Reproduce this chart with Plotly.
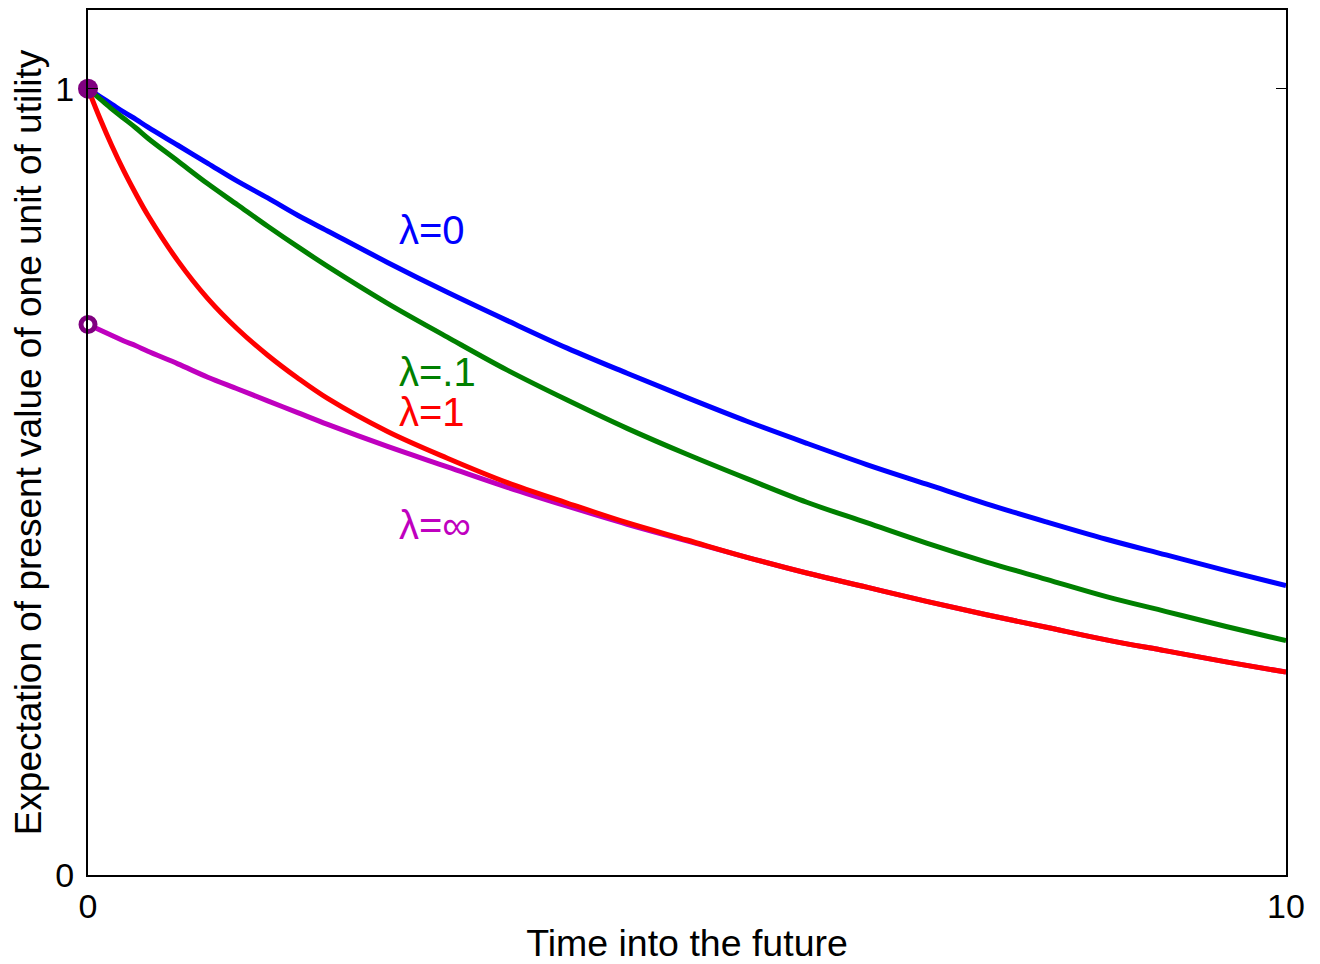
import plotly.graph_objects as go

# Time into the future
t = [0, 0.1, 0.2, 0.3, 0.4, 0.5, 0.75, 1, 1.25, 1.5, 1.75, 2, 2.5, 3, 3.5, 4,
     4.5, 5, 5.5, 6, 6.5, 7, 7.5, 8, 8.5, 9, 9.5, 10]

# Expectation of present value, one series per lambda
lam0 = [1.000, 0.990, 0.980, 0.970, 0.961, 0.951, 0.928, 0.905, 0.882, 0.861, 0.839,
        0.819, 0.779, 0.741, 0.705, 0.670, 0.638, 0.607, 0.577, 0.549, 0.522, 0.497,
        0.472, 0.449, 0.427, 0.407, 0.387, 0.368]
lam01 = [1.000, 0.987, 0.974, 0.962, 0.950, 0.937, 0.908, 0.879, 0.852, 0.825, 0.799,
         0.774, 0.727, 0.684, 0.642, 0.604, 0.568, 0.535, 0.504, 0.474, 0.448, 0.422,
         0.398, 0.376, 0.354, 0.335, 0.316, 0.298]
lam1 = [1.000, 0.962, 0.927, 0.895, 0.866, 0.839, 0.781, 0.733, 0.694, 0.661, 0.632,
        0.606, 0.564, 0.530, 0.499, 0.473, 0.448, 0.426, 0.404, 0.384, 0.366, 0.348,
        0.331, 0.315, 0.299, 0.285, 0.271, 0.258]
laminf = [0.700, 0.693, 0.686, 0.679, 0.673, 0.666, 0.650, 0.633, 0.618, 0.603, 0.588,
          0.573, 0.545, 0.519, 0.493, 0.469, 0.446, 0.425, 0.404, 0.384, 0.366, 0.348,
          0.331, 0.315, 0.299, 0.285, 0.271, 0.258]

labels = ["λ=0", "λ=.1", "λ=1", "λ=∞"]
label_y = [0.820, 0.640, 0.589, 0.445]
label_x = 2.58

x_ticks = [0, 10]
y_ticks = [0, 1]

colors = ["#0000FF", "#008000", "#FF0000", "#BF00BF"]
FONT = "Liberation Sans, Arial, sans-serif"

fig = go.Figure()
series = [(lam0, colors[0]), (lam01, colors[1]), (laminf, colors[3]), (lam1, colors[2])]
for ys, c in series:
    fig.add_trace(go.Scatter(x=t, y=ys, mode="lines",
                             line=dict(color=c, width=5, shape="spline", smoothing=1),
                             showlegend=False, hoverinfo="skip", cliponaxis=False))

# end-point markers
fig.add_trace(go.Scatter(x=[t[0]], y=[lam0[0]], mode="markers",
                         marker=dict(color="#800080", size=20, line=dict(width=0)),
                         showlegend=False, cliponaxis=False))
fig.add_trace(go.Scatter(x=[t[0]], y=[laminf[0]], mode="markers",
                         marker=dict(color="white", size=14, line=dict(color="#800080", width=5)),
                         showlegend=False, cliponaxis=False))

for txt, yv, c in zip(labels, label_y, colors):
    fig.add_annotation(x=label_x, y=yv, text=txt, showarrow=False, xanchor="left", yanchor="middle",
                       font=dict(family=FONT, size=40, color=c))

fig.update_layout(
    width=1312, height=956,
    margin=dict(l=80, r=34, t=0, b=89),
    plot_bgcolor="white", paper_bgcolor="white",
    font=dict(family=FONT, color="black"),
)
fig.update_xaxes(range=[0, 10], tickvals=x_ticks, ticktext=[str(v) for v in x_ticks],
                 showgrid=False, zeroline=False, showline=True, linecolor="black", linewidth=2,
                 mirror="ticks", ticks="inside", ticklen=10, tickcolor="black",
                 tickfont=dict(size=34, family=FONT),
                 title=dict(text="Time into the future", font=dict(size=37.5, family=FONT), standoff=6))
fig.update_yaxes(range=[0, 1.1], tickvals=y_ticks, ticktext=[str(v) for v in y_ticks],
                 showgrid=False, zeroline=False, showline=True, linecolor="black", linewidth=2,
                 mirror="ticks", ticks="inside", ticklen=10, tickcolor="black",
                 tickfont=dict(size=34, family=FONT), ticklabelstandoff=5,
                 title=dict(text="Expectation of present value of one unit of utility",
                            font=dict(size=37, family=FONT), standoff=2))

fig.write_html("out.html")
